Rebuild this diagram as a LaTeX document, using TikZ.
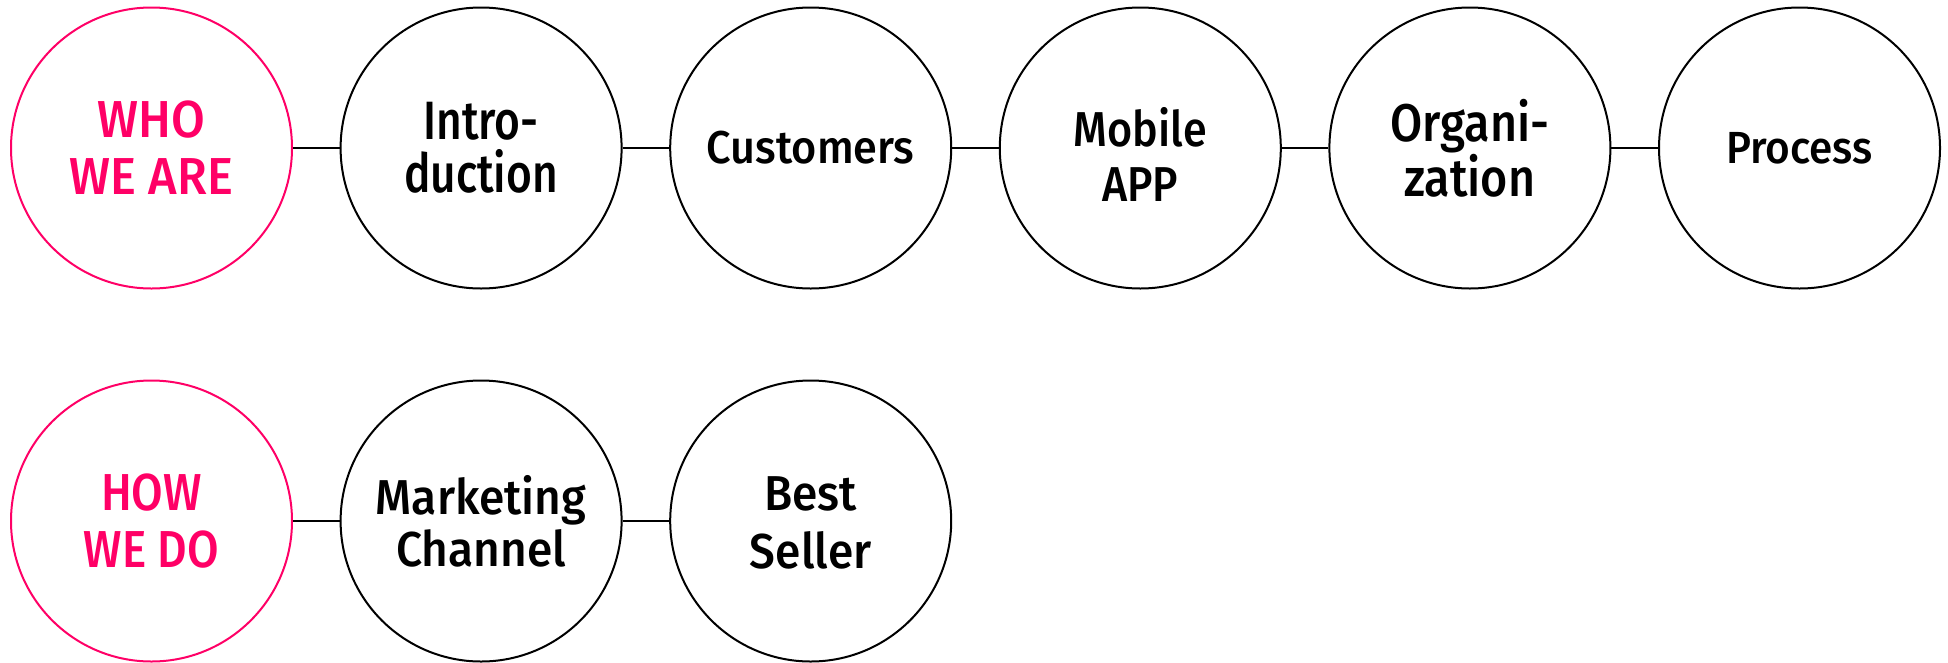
\documentclass[tikz,border=0pt]{standalone}
\usepackage{fontspec}
\setmainfont{Fira Sans}[UprightFont=* Medium, FakeStretch=0.82]
\newfontfamily\fA{Fira Sans}[UprightFont=* Medium, FakeStretch=0.82]
\newfontfamily\fB{Fira Sans}[UprightFont=* Medium, FakeStretch=0.88]
\newfontfamily\fC{Fira Sans}[UprightFont=* Medium, FakeStretch=0.94]
\newfontfamily\fD{Fira Sans}[UprightFont=* Medium, FakeStretch=1.0]
\definecolor{hotpink}{RGB}{255,0,102}
\begin{document}
\begin{tikzpicture}[x=1pt,y=1pt,
  bub/.style={circle, draw=black, line width=2pt, minimum size=281pt, inner sep=0pt, align=center},
  head/.style={bub, draw=hotpink, text=hotpink},
  txt/.style={inner sep=0pt, align=center},
  link/.style={draw=black, line width=2pt}]
\useasboundingbox (0,0) rectangle (1948,-662);
\node[head, font=\fC\fontsize{52}{57}\selectfont] (who) at (151.5,-148) {WHO\\WE ARE};
\node[bub, font=\fA\fontsize{54}{53}\selectfont] (intro) at (481.1,-148) {Intro-\\duction};
\node[bub, font=\fC\fontsize{46}{50}\selectfont] (cust) at (810.7,-148) {Customers};
\node[bub] (mob) at (1140.3,-148) {};
\node[txt, font=\fB\fontsize{49}{55}\selectfont] (mobt) at ([yshift=-6pt]mob.center) {Mobile\\APP};
\node[bub, font=\fB\fontsize{53}{53}\selectfont] (org) at (1469.9,-148) {Organi-\\zation};
\node[bub, font=\fC\fontsize{45}{50}\selectfont] (proc) at (1799.5,-148) {Process};
\draw[link] (who) -- (intro);
\draw[link] (intro) -- (cust);
\draw[link] (cust) -- (mob);
\draw[link] (mob) -- (org);
\draw[link] (org) -- (proc);
\node[head, font=\fB\fontsize{52}{57}\selectfont] (how) at (151.5,-521) {HOW\\WE DO};
\node[bub, font=\fC\fontsize{49}{52}\selectfont] (mkt) at (481.1,-521) {Marketing\\Channel};
\node[bub] (best) at (810.7,-521) {};
\node[txt, font=\fC\fontsize{49}{58}\selectfont] (bestt) at ([yshift=-2pt]best.center) {Best\\Seller};
\draw[link] (how) -- (mkt);
\draw[link] (mkt) -- (best);
\end{tikzpicture}
\end{document}
